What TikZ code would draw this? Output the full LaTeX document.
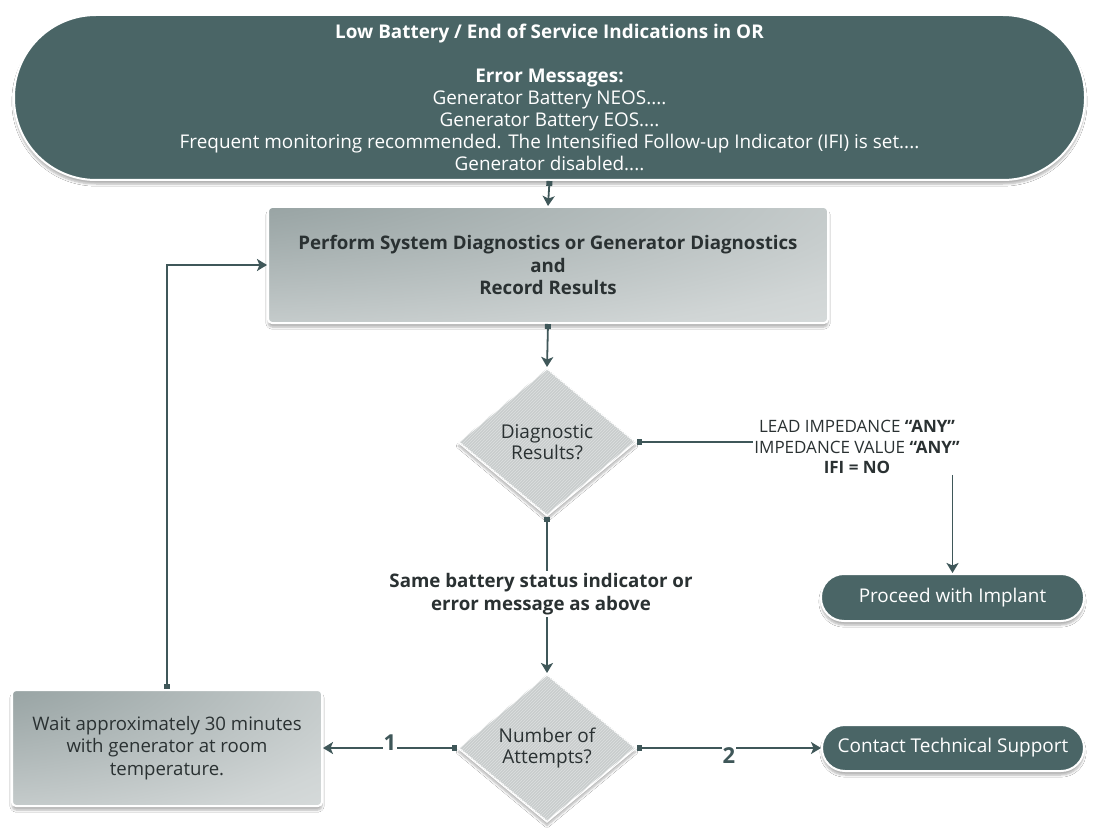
\documentclass[tikz,border=0pt]{standalone}
\usepackage{fontspec}
\setmainfont{Open Sans}
\usetikzlibrary{arrows.meta,shapes.geometric,shadows.blur,patterns}
\definecolor{stadfill}{HTML}{4A6566}
\definecolor{linecol}{HTML}{3F5759}
\definecolor{diafill}{HTML}{C9CDCD}
\definecolor{hatchcol}{HTML}{DDE0E0}
\definecolor{txtcol}{HTML}{2A3132}
\definecolor{gA}{HTML}{7A8989}
\definecolor{gM}{HTML}{A5AFAF}
\definecolor{gB}{HTML}{D0D5D5}
\definecolor{gC}{HTML}{EFF1F1}
\pgfdeclareradialshading{boxrad}{\pgfpoint{-48bp}{48bp}}{color(0bp)=(gA); color(32bp)=(gM); color(65bp)=(gB); color(110bp)=(gC); color(160bp)=(gC)}
\begin{document}
\begin{tikzpicture}[x=1pt,y=-1pt,
  shad/.style={blur shadow={shadow xshift=0pt, shadow yshift=-4pt, shadow blur steps=6, shadow opacity=30}},
  stad/.style={rectangle, fill=stadfill, draw=white, line width=2pt, text=white, shad, inner sep=2pt},
  gbox/.style={rectangle, rounded corners=4pt, shading=boxrad, draw=white, line width=2pt, text=txtcol, shad, align=center},
  dia/.style={diamond, aspect=1.2, minimum width=178pt, minimum height=148pt, inner sep=0pt, fill=diafill, draw=white, line width=2pt, text=txtcol, shad, align=center, postaction={pattern=north east lines, pattern color=hatchcol}},
  conn/.style={draw=linecol, line width=1.8pt},
  tipstyle/.style={},
  arr/.style={conn, -{Stealth[length=10pt,width=12pt,inset=2.5pt]}},
  sqarr/.style={conn, {Square[length=5pt,width=6pt]}-{Stealth[length=10pt,width=12pt,inset=2.5pt]}},
  sqline/.style={conn, {Square[length=5pt,width=6pt]}-},
  num/.style={fill=white, inner sep=1pt, text=linecol, font=\fontsize{22}{24}\selectfont\bfseries},
  lab/.style={text=txtcol, align=center}
]
\useasboundingbox[fill=white] (0,0) rectangle (1095,837);
\node[stad, minimum width=1071pt, minimum height=165pt, rounded corners=82pt, align=center,
      font=\fontsize{18.9}{22}\selectfont] (top) at (549.5,97.5)
  {\textbf{Low Battery / End of Service Indications in OR}\\[22pt]
   \textbf{Error Messages:}\\
   Generator Battery NEOS....\\
   Generator Battery EOS....\\
   Frequent monitoring recommended. The Intensified Follow-up Indicator (IFI) is set....\\
   Generator disabled....};
\node[gbox, minimum width=560pt, minimum height=116pt, font=\fontsize{18.7}{22.5}\selectfont\bfseries] (rect) at (548,265)
  {Perform System Diagnostics or Generator Diagnostics\\and\\Record Results};
\node[dia, font=\fontsize{19}{21.5}\selectfont] (d1) at (547,442) {Diagnostic\\Results?};
\node[lab, font=\fontsize{17}{20.5}\selectfont, inner sep=1pt] (lbl) at (857,447)
  {LEAD IMPEDANCE \textbf{“ANY”}\\IMPEDANCE VALUE \textbf{“ANY”}\\\textbf{IFI = NO}};
\node[stad, minimum width=263pt, minimum height=47pt, rounded corners=23pt, font=\fontsize{18.9}{20}\selectfont] (prc) at (952.5,597.5) {Proceed with Implant};
\node[lab, font=\fontsize{18.7}{23}\selectfont\bfseries, inner sep=2pt] (same) at (541,594)
  {Same battery status indicator or\\error message as above};
\node[dia, font=\fontsize{19}{21.5}\selectfont] (d2) at (547,748) {Number of\\Attempts?};
\node[gbox, minimum width=310pt, minimum height=116pt, font=\fontsize{18.6}{22.5}\selectfont] (wait) at (167,748)
  {Wait approximately 30 minutes\\with generator at room\\temperature.};
\node[stad, minimum width=262pt, minimum height=46pt, rounded corners=23pt, font=\fontsize{19}{20}\selectfont] (ctc) at (953,748) {Contact Technical Support};
\draw[sqarr] (top.south) -- (rect.north);
\draw[sqarr] (rect.south) -- (d1.north);
\draw[sqline] (d1.east) -- (d1.east -| lbl.west);
\draw[arr] (lbl.south -| prc.north) -- (prc.north);
\draw[sqline] (d1.south) -- (d1.south |- same.north);
\draw[arr] (d2.north |- same.south) -- (d2.north);
\draw[sqarr] (d2.west) -- node[num, yshift=5pt] {1} (wait.east);
\draw[sqarr] (d2.east) -- node[num, yshift=-8pt] {2} (ctc.west);
\draw[sqarr] (wait.north) |- (rect.west);
\end{tikzpicture}
\end{document}
